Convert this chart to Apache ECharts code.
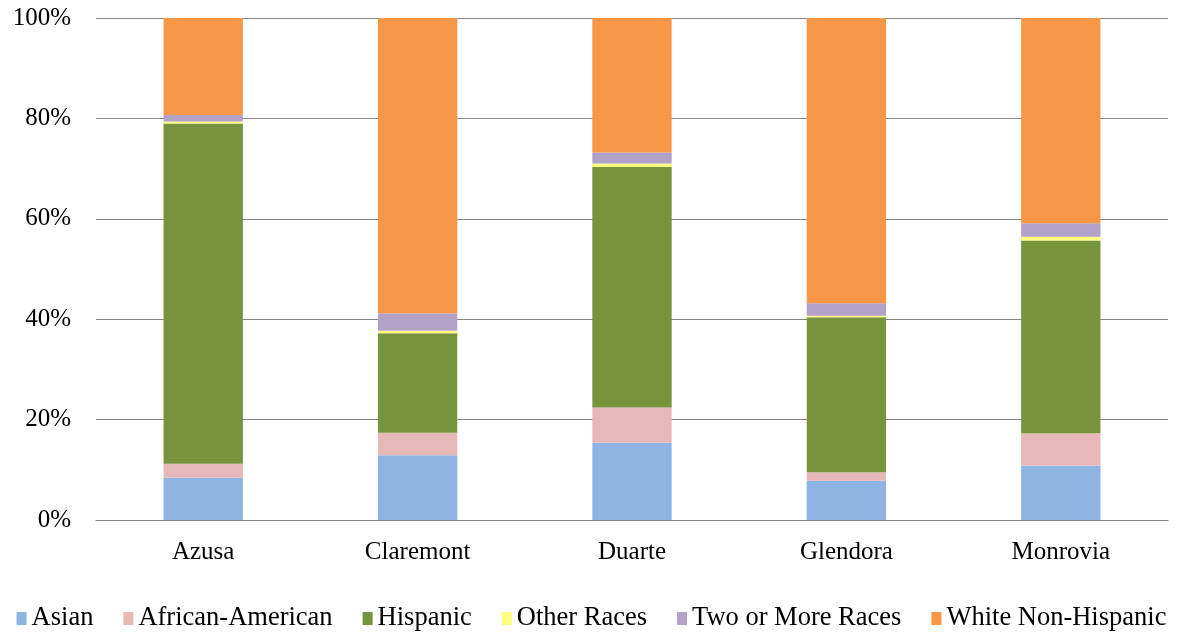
<!DOCTYPE html>
<html><head><meta charset="utf-8">
<script src="https://cdn.jsdelivr.net/npm/echarts@6/dist/echarts.min.js"></script>
<style>html,body{margin:0;padding:0;background:#fff}#c{width:1183px;height:634px}</style>
</head><body><div id="c"></div>
<script>
var categories = ['Azusa','Claremont','Duarte','Glendora','Monrovia'];
var asian = [8.4, 12.9, 15.4, 7.8, 10.8];
var africanAmerican = [2.8, 4.5, 7.0, 1.7, 6.5];
var hispanic = [67.8, 19.8, 47.9, 30.9, 38.4];
var otherRaces = [0.4, 0.5, 0.7, 0.3, 0.7];
var twoOrMore = [1.3, 3.5, 2.2, 2.5, 2.7];
var whiteNonHispanic = [19.3, 58.8, 26.8, 56.8, 40.9];
var yTicks = [0, 20, 40, 60, 80, 100];

var names = ['Asian','African-American','Hispanic','Other Races','Two or More Races','White Non-Hispanic'];
var colors = ['#8EB4E3','#E6B9B8','#77933C','#FFFF80','#B3A2C7','#F79646'];
var data = [asian, africanAmerican, hispanic, otherRaces, twoOrMore, whiteNonHispanic];
var font = 'Liberation Serif, Times New Roman, serif';

var chart = echarts.init(document.getElementById('c'));
chart.setOption({
  animation: false,
  color: colors,
  textStyle: {fontFamily: font},
  grid: {left: 96, right: 15, top: 18, bottom: 114},
  legend: {
    top: 600, left: 'center', itemWidth: 10, itemHeight: 13, itemGap: 30,
    icon: 'rect',
    textStyle: {fontFamily: font, fontSize: 26.5, color: '#000'},
    data: names
  },
  xAxis: {
    type: 'category', data: categories,
    axisLine: {lineStyle: {color: '#868686', width: 1}},
    axisTick: {show: false},
    axisLabel: {fontFamily: font, fontSize: 25, color: '#000', margin: 20}
  },
  yAxis: {
    type: 'value', min: 0, max: 100, interval: 20,
    axisLine: {show: false}, axisTick: {show: false},
    splitLine: {lineStyle: {color: '#868686', width: 1}},
    axisLabel: {fontFamily: font, fontSize: 25, color: '#000', margin: 25,
      formatter: function(v){ return yTicks.indexOf(v) >= 0 ? v + '%' : ''; }}
  },
  series: names.map(function(n, i){
    return {name: n, type: 'bar', stack: 'total', barWidth: '37%', data: data[i],
      itemStyle: {color: colors[i]}};
  })
});
</script></body></html>
